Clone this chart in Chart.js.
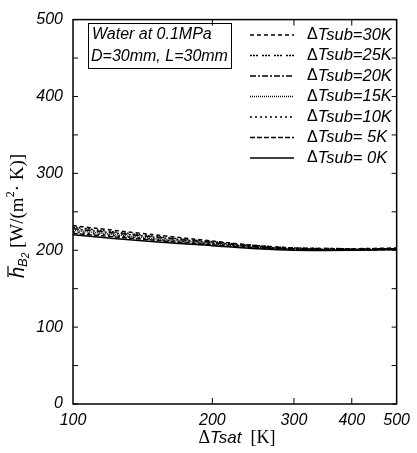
<!DOCTYPE html>
<html>
<head>
<meta charset="utf-8">
<script src="https://cdn.jsdelivr.net/npm/chart.js@4"></script>
<style>
  body { margin: 0; background: #fff; }
  #wrap { width: 417px; height: 453px; }
</style>
</head>
<body>
<div id="wrap"><canvas id="chart" width="417" height="453"></canvas></div>
<script>
// values
const xValues = [100, 150, 200, 250, 300, 400, 500];
const sub30 = [232, 220, 212, 206, 203, 202, 203];
const sub25 = [230, 218, 211, 206, 203, 202, 202];
const sub20 = [228, 217, 210, 205, 202, 201, 202];
const sub15 = [226, 215, 209, 204, 202, 201, 202];
const sub10 = [224, 214, 208, 204, 201, 201, 202];
const sub5 = [222, 213, 207, 203, 201, 200, 201];
const sub0 = [220, 211, 206, 202, 200, 200, 201];

const seriesLabels = ["ΔTsub=30K", "ΔTsub=25K", "ΔTsub=20K", "ΔTsub=15K", "ΔTsub=10K", "ΔTsub= 5K", "ΔTsub= 0K"];
const seriesValues = [sub30, sub25, sub20, sub15, sub10, sub5, sub0];
const seriesDash = [[4, 3], [2, 1, 2, 1, 2, 4], [6, 2, 2, 2], [1, 1], [2, 3], [5, 2], []];

const xTicks = [100, 200, 300, 400, 500];
const yTicks = [0, 100, 200, 300, 400, 500];

const sansItalic = "italic 16px 'Liberation Sans', Arial, sans-serif";
const serif = "18px 'Liberation Serif', 'Times New Roman', serif";

const datasets = seriesValues.map((vals, i) => ({
    label: seriesLabels[i],
    data: vals.map((v, j) => ({ x: xValues[j], y: v })),
    borderColor: "#000",
    borderWidth: 1.5,
    borderDash: seriesDash[i],
    pointRadius: 0,
    fill: false,
    tension: 0.3,
}));

// frame, inward ticks, legend, box and axis titles
const decorPlugin = {
    id: "decor",
    afterDraw(chart) {
        const ctx = chart.ctx;
        const a = chart.chartArea;
        const xs = chart.scales.x;
        const ys = chart.scales.y;
        ctx.save();
        ctx.strokeStyle = "#000";
        ctx.lineWidth = 1.5;
        ctx.setLineDash([]);
        ctx.strokeRect(a.left, a.top, a.right - a.left, a.bottom - a.top);

        ctx.lineWidth = 1;
        ys.ticks.forEach((t) => {
            const y = ys.getPixelForValue(t.value);
            ctx.beginPath();
            ctx.moveTo(a.left, y); ctx.lineTo(a.left + 5, y);
            ctx.moveTo(a.right, y); ctx.lineTo(a.right - 5, y);
            ctx.stroke();
        });
        xs.ticks.forEach((t) => {
            if (t.value === 100 || t.value === 500) return;
            const x = xs.getPixelForValue(t.value);
            ctx.beginPath();
            ctx.moveTo(x, a.bottom); ctx.lineTo(x, a.bottom - 6);
            ctx.moveTo(x, a.top); ctx.lineTo(x, a.top + 6);
            ctx.stroke();
        });

        // legend
        ctx.textBaseline = "middle";
        ctx.textAlign = "left";
        chart.data.datasets.forEach((ds, i) => {
            const y = 35 + i * 20.5;
            ctx.beginPath();
            ctx.lineWidth = 1.5;
            ctx.setLineDash(ds.borderDash);
            ctx.moveTo(250, y); ctx.lineTo(294, y);
            ctx.stroke();
            ctx.setLineDash([]);
            ctx.font = "16px 'Liberation Sans', Arial, sans-serif";
            ctx.fillStyle = "#000";
            ctx.fillText("Δ", 307, y);
            const w = ctx.measureText("Δ").width;
            ctx.font = "italic 16.5px 'Liberation Sans', Arial, sans-serif";
            ctx.fillText(ds.label.slice(1), 307 + w, y);
        });

        // info box
        ctx.lineWidth = 1;
        ctx.strokeRect(88.5, 23.5, 143, 45);
        ctx.font = sansItalic;
        ctx.fillText("Water at 0.1MPa", 92, 35);
        ctx.fillText("D=30mm, L=30mm", 91, 57);

        // x title
        const xParts = [
            ["Δ", serif, 0],
            ["Tsat", "italic 17px 'Liberation Sans', Arial, sans-serif", 0],
            ["  [K]", serif, 0],
        ];
        drawParts(ctx, xParts, 237, 438);

        // y title
        ctx.translate(18, 216);
        ctx.rotate(-Math.PI / 2);
        const yParts = [
            ["h", "italic 20px 'Liberation Sans', Arial, sans-serif", 0],
            ["B", "italic 13px 'Liberation Sans', Arial, sans-serif", 5],
            ["2", "italic 10px 'Liberation Sans', Arial, sans-serif", 8],
            [" [W/(m", "19px 'Liberation Serif', serif", 0],
            ["2", "12px 'Liberation Serif', serif", -7],
            ["· K)]", "19px 'Liberation Serif', serif", 0],
        ];
        const pos = drawParts(ctx, yParts, 0, 0);
        // overbar on h
        ctx.beginPath();
        ctx.lineWidth = 1.2;
        ctx.moveTo(pos[0] + 1, -10); ctx.lineTo(pos[0] + 12, -10);
        ctx.stroke();
        ctx.restore();
    },
};

function drawParts(ctx, parts, cx, cy) {
    let total = 0;
    const widths = parts.map((p) => {
        ctx.font = p[1];
        const w = ctx.measureText(p[0]).width;
        total += w;
        return w;
    });
    let x = cx - total / 2;
    const starts = [];
    ctx.textAlign = "left";
    ctx.textBaseline = "middle";
    parts.forEach((p, i) => {
        ctx.font = p[1];
        starts.push(x);
        ctx.fillText(p[0], x, cy + p[2]);
        x += widths[i];
    });
    return starts;
}

new Chart(document.getElementById("chart"), {
    type: "line",
    data: { datasets: datasets },
    options: {
        responsive: false,
        animation: false,
        layout: { padding: { top: 14, right: 16, left: 0, bottom: 0 } },
        plugins: {
            legend: { display: false },
            tooltip: { enabled: false },
        },
        scales: {
            x: {
                type: "logarithmic",
                min: 100,
                max: 500,
                grid: { display: false, drawTicks: false },
                border: { display: false },
                afterBuildTicks: (s) => { s.ticks = xTicks.map((v) => ({ value: v })); },
                afterFit: (s) => { s.height = 49; },
                ticks: {
                    autoSkip: false,
                    maxRotation: 0,
                    padding: 7,
                    color: "#000",
                    font: { family: "'Liberation Sans', Arial, sans-serif", size: 16, style: "italic" },
                    callback: (v) => String(v),
                },
            },
            y: {
                min: 0,
                max: 500,
                grid: { display: false, drawTicks: false },
                border: { display: false },
                afterFit: (s) => { s.width = 73; },
                ticks: {
                    stepSize: 50,
                    padding: 10,
                    color: "#000",
                    font: { family: "'Liberation Sans', Arial, sans-serif", size: 16, style: "italic" },
                    callback: (v) => (yTicks.includes(v) ? String(v) : ""),
                },
            },
        },
    },
    plugins: [decorPlugin],
});
</script>
</body>
</html>
